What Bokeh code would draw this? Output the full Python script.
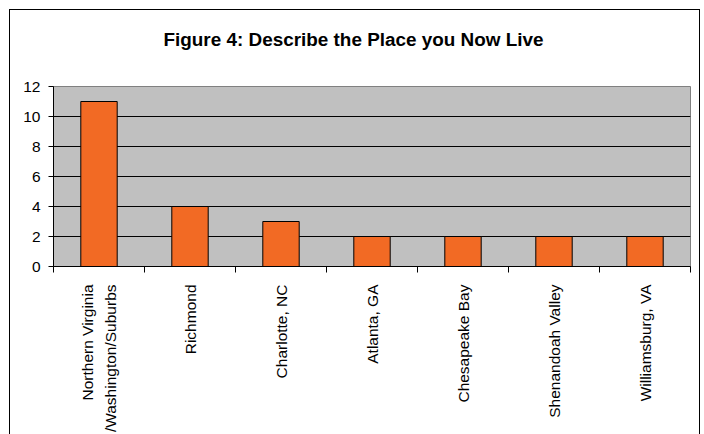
from bokeh.plotting import figure
from bokeh.models import Range1d, FixedTicker, Title
from bokeh.embed import file_html
from bokeh.resources import INLINE

# ---- data ----
categories = [
    "Northern Virginia\n/Washington/Suburbs",
    "Richmond",
    "Charlotte, NC",
    "Atlanta, GA",
    "Chesapeake Bay",
    "Shenandoah Valley",
    "Williamsburg, VA",
]
counts = [11, 4, 3, 2, 2, 2, 2]
y_ticks = [0, 2, 4, 6, 8, 10, 12]
title_text = "Figure 4: Describe the Place you Now Live"

n = len(categories)
centers = [i + 0.5 for i in range(n)]
edges = [float(i) for i in range(n + 1)]

FONT = "Liberation Sans"

p = figure(
    frame_width=637, frame_height=180,
    x_range=Range1d(0, n), y_range=Range1d(0, 12),
    output_backend="svg", toolbar_location=None,
    min_border_left=43, min_border_right=9,
    min_border_top=76, min_border_bottom=166,
)
p.styles = {
    "box-sizing": "content-box",
    "border-left": "1px solid black",
    "border-top": "1px solid black",
    "border-right": "1px solid black",
    "margin-left": "9px",
    "margin-top": "9px",
}

# main title (outermost) plus a blank spacer between it and the plot area
p.title.text = title_text
p.title.align = "left"
p.title.offset = 110
p.title.standoff = 0
p.title.vertical_align = "bottom"
p.title.text_font = FONT
p.title.text_color = "black"
p.title.text_font_size = "18.9px"
p.title.text_font_style = "bold"

spacer = Title(text=" ", text_font=FONT, text_font_size="10px",
               standoff=24)
p.add_layout(spacer, "above")

p.background_fill_color = "#C0C0C0"
p.border_fill_color = "white"
p.outline_line_color = "#808080"
p.outline_line_width = 1

p.vbar(x=centers, top=counts, width=0.4, bottom=0,
       fill_color="#F26A24", line_color="black", line_width=1)

# x axis
xa = p.xaxis[0]
xa.ticker = FixedTicker(ticks=centers, minor_ticks=edges)
xa.major_label_overrides = {c: lab for c, lab in zip(centers, categories)}
xa.major_label_orientation = 3.14159265 / 2
xa.major_tick_line_color = None
xa.major_tick_out = 0
xa.major_tick_in = 0
xa.minor_tick_line_color = "black"
xa.minor_tick_out = 6
xa.minor_tick_in = 0
xa.major_label_standoff = 12
xa.major_label_text_font = FONT
xa.major_label_text_font_size = "15.5px"
xa.major_label_text_color = "black"
xa.major_label_text_line_height = 1.4
xa.major_label_text_align = "center"
xa.axis_line_color = "black"

# y axis
ya = p.yaxis[0]
ya.ticker = FixedTicker(ticks=y_ticks)
ya.major_tick_out = 5
ya.major_tick_in = 0
ya.major_tick_line_color = "black"
ya.minor_tick_line_color = None
ya.major_label_standoff = 8
ya.major_label_text_font = FONT
ya.major_label_text_font_size = "15.5px"
ya.major_label_text_color = "black"
ya.axis_line_color = "black"

p.xgrid.visible = False
p.ygrid.ticker = FixedTicker(ticks=y_ticks[1:-1])
p.ygrid.grid_line_color = "black"
p.ygrid.grid_line_width = 1

open("out.html", "w").write(file_html(p, INLINE))
